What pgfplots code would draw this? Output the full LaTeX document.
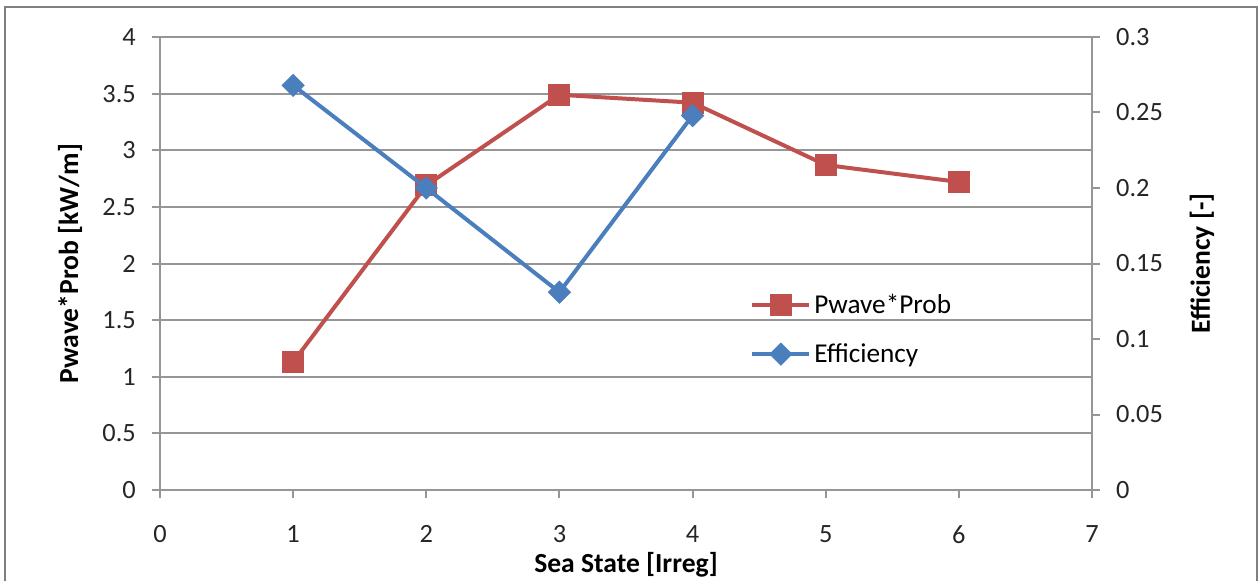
\documentclass[border=0pt]{standalone}
\usepackage{pgfplots}
\pgfplotsset{compat=1.18}
\usepackage{fontspec}
\setmainfont{Carlito}
\definecolor{pwred}{RGB}{192,80,77}
\definecolor{effblue}{RGB}{74,126,189}
\definecolor{gridgray}{RGB}{150,150,150}
\definecolor{framegray}{RGB}{128,128,128}
\begin{document}
\begin{tikzpicture}
\useasboundingbox (0,0) rectangle (251.8mm,116mm);
\draw[line width=0.5mm, framegray] (1mm,-3mm) -- (1mm,114.6mm) -- (251.4mm,114.6mm) -- (251.4mm,-3mm);
\pgfplotsset{
  common/.style={
    scale only axis, width=186.4mm, height=90.6mm,
    at={(32mm,18mm)}, anchor=south west,
    xmin=0, xmax=7,
    tick style={gridgray, line width=0.4mm},
    major tick length=1.6mm,
    tick align=outside,
    axis line style={gridgray, line width=0.4mm},
    ticklabel style={font=\fontsize{15}{18}\selectfont, text=black!85},
    label style={font=\fontsize{15.7}{19}\selectfont\bfseries},
    /pgf/number format/assume math mode=true,
  }
}
% left axis: wave power weighted by probability
\begin{axis}[common,
  axis x line*=bottom, axis y line*=left,
  ymin=0, ymax=4,
  ytick={0,0.5,1,1.5,2,2.5,3,3.5,4},
  xtick={0,1,2,3,4,5,6,7},
  ymajorgrids, grid style={gridgray, line width=0.4mm},
  xticklabel style={yshift=-4.3mm},
  yticklabel style={xshift=-2mm},
  xlabel={Sea State [Irreg]},
  ylabel={Pwave*Prob [kW/m]},
  xlabel style={at={(axis description cs:0.5,0)}, anchor=center, yshift=-15mm},
  ylabel style={at={(axis description cs:0,0.5)}, anchor=center, yshift=18mm},
]
\addplot[pwred, line width=0.8mm, mark=square*, mark size=1.8mm, mark options={solid}]
  coordinates {(1,1.13) (2,2.69) (3,3.49) (4,3.42) (5,2.87) (6,2.72)};
\end{axis}
% right axis: efficiency
\begin{axis}[common,
  axis x line=none, axis y line*=right,
  ymin=0, ymax=0.3,
  ytick={0,0.05,0.1,0.15,0.2,0.25,0.3},
  yticklabel style={xshift=2mm, /pgf/number format/fixed, /pgf/number format/precision=2},
  ylabel={Efficiency [-]},
  ylabel style={at={(axis description cs:1,0.5)}, anchor=center, yshift=-22mm},
  legend style={at={(rel axis cs:0.633,0.354)}, anchor=west, draw=none, fill=none,
    font=\fontsize{15.5}{18}\selectfont, row sep=4mm, inner sep=0pt,
    nodes={inner xsep=0.6mm}},
  legend cell align=left,
  legend image code/.code={\draw[mark repeat=2, mark phase=2] plot coordinates {(0mm,0mm) (5.7mm,0mm) (11.4mm,0mm)};},
]
\addlegendimage{pwred, line width=0.8mm, mark=square*, mark size=1.8mm, mark options={solid}}
\addlegendentry{Pwave*Prob}
\addplot[effblue, line width=0.8mm, mark=square*, mark size=1.25mm, mark options={solid, rotate=45}]
  coordinates {(1,0.268) (2,0.200) (3,0.131) (4,0.248)};
\addlegendentry{Efficiency}
\end{axis}
\end{tikzpicture}
\end{document}
